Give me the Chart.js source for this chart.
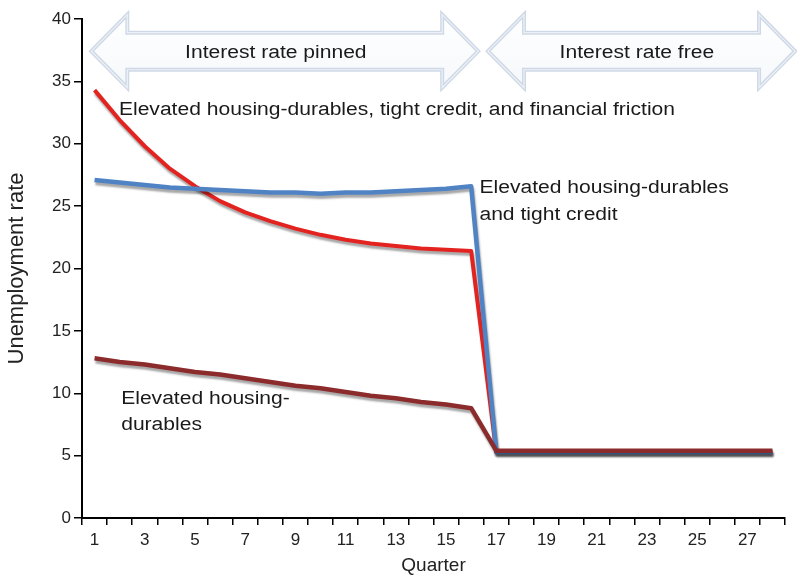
<!DOCTYPE html>
<html>
<head>
<meta charset="utf-8">
<script src="https://cdn.jsdelivr.net/npm/chart.js@4.4.1/dist/chart.umd.min.js"></script>
<style>
  body { margin: 0; background: #fff; }
</style>
</head>
<body>
<canvas id="chart" width="797" height="581"></canvas>
<script>
// quarters on the x axis
const quarters = ['1','2','3','4','5','6','7','8','9','10','11','12','13','14',
  '15','16','17','18','19','20','21','22','23','24','25','26','27','28']

// unemployment rate by scenario
const frictionRate = [34.3, 31.9, 29.8, 28.0, 26.6, 25.4, 24.5, 23.8, 23.2, 22.7, 22.3, 22.0, 21.8, 21.6, 21.5, 21.4,
  5.3, 5.3, 5.3, 5.3, 5.3, 5.3, 5.3, 5.3, 5.3, 5.3, 5.3, 5.3]
const tightCreditRate = [27.1, 26.9, 26.7, 26.5, 26.4, 26.3, 26.2, 26.1, 26.1, 26.0, 26.1, 26.1, 26.2, 26.3, 26.4, 26.6,
  5.3, 5.3, 5.3, 5.3, 5.3, 5.3, 5.3, 5.3, 5.3, 5.3, 5.3, 5.3]
const housingRate = [12.8, 12.5, 12.3, 12.0, 11.7, 11.5, 11.2, 10.9, 10.6, 10.4, 10.1, 9.8, 9.6, 9.3, 9.1, 8.8,
  5.4, 5.4, 5.4, 5.4, 5.4, 5.4, 5.4, 5.4, 5.4, 5.4, 5.4, 5.4]

const yTicks = [0, 5, 10, 15, 20, 25, 30, 35, 40]

const FONT = "'Liberation Sans', Arial, sans-serif"
const STRETCH = 1.17   // the original type is a bit wide

// double arrows at the top (x in category index, y in axis units)
const arrows = [
  { from: -0.13, to: 15.28, text: 'Interest rate pinned', textAt: 7.22 },
  { from: 15.67, to: 27.9, text: 'Interest rate free', textAt: 21.6 }
]
const arrowBand = { top: 40.35, shaftTop: 38.9, mid: 37.42, shaftBottom: 35.93, bottom: 34.49, text: 36.85 }

// text next to the lines
const notes = [
  { lines: ['Elevated housing-durables, tight credit, and financial friction'], at: 0.97, y: [32.3] },
  { lines: ['Elevated housing-durables', 'and tight credit'], at: 15.33, y: [26.05, 23.88] },
  { lines: ['Elevated housing-', 'durables'], at: 1.06, y: [9.1, 7.05] }
]

function wideText(ctx, str, px, py, align) {
  ctx.save()
  ctx.translate(px, py)
  ctx.scale(STRETCH, 1)
  ctx.textAlign = align
  ctx.textBaseline = 'alphabetic'
  ctx.fillText(str, 0, 0)
  ctx.restore()
}

function drawArrow(ctx, xl, xr, yTop, sTop, yMid, sBot, yBot, head) {
  ctx.beginPath()
  ctx.moveTo(xl, yMid)
  ctx.lineTo(xl + head, yTop)
  ctx.lineTo(xl + head, sTop)
  ctx.lineTo(xr - head, sTop)
  ctx.lineTo(xr - head, yTop)
  ctx.lineTo(xr, yMid)
  ctx.lineTo(xr - head, yBot)
  ctx.lineTo(xr - head, sBot)
  ctx.lineTo(xl + head, sBot)
  ctx.lineTo(xl + head, yBot)
  ctx.closePath()
  const g = ctx.createLinearGradient(0, yTop, 0, yBot)
  g.addColorStop(0, '#ffffff')
  g.addColorStop(1, '#f5f8fb')
  ctx.fillStyle = g
  ctx.fill()
  ctx.lineWidth = 4
  ctx.strokeStyle = '#cfd9e6'
  ctx.stroke()
  ctx.lineWidth = 1.2
  ctx.strokeStyle = '#edf1f7'
  ctx.stroke()
}

const lineShadow = {
  id: 'lineShadow',
  beforeDatasetsDraw(chart) {
    const ctx = chart.ctx
    ctx.save()
    ctx.shadowColor = 'rgba(0, 0, 0, 0.35)'
    ctx.shadowOffsetX = 1
    ctx.shadowOffsetY = 3
    ctx.shadowBlur = 2
  },
  afterDatasetsDraw(chart) {
    chart.ctx.restore()
  }
}

const annotations = {
  id: 'annotations',
  afterDraw(chart) {
    const { ctx, scales: { x, y } } = chart
    ctx.save()
    ctx.lineJoin = 'miter'
    arrows.forEach(a => {
      drawArrow(ctx, x.getPixelForValue(a.from), x.getPixelForValue(a.to),
        y.getPixelForValue(arrowBand.top), y.getPixelForValue(arrowBand.shaftTop),
        y.getPixelForValue(arrowBand.mid), y.getPixelForValue(arrowBand.shaftBottom),
        y.getPixelForValue(arrowBand.bottom), 36)
    })
    ctx.fillStyle = '#1a1a1a'
    ctx.font = '18px ' + FONT
    arrows.forEach(a => {
      wideText(ctx, a.text, x.getPixelForValue(a.textAt), y.getPixelForValue(arrowBand.text), 'center')
    })
    notes.forEach(n => {
      n.lines.forEach((line, i) => {
        wideText(ctx, line, x.getPixelForValue(n.at), y.getPixelForValue(n.y[i]), 'left')
      })
    })
    ctx.restore()
  }
}

const ctx = document.getElementById('chart').getContext('2d')
new Chart(ctx, {
  type: 'line',
  data: {
    labels: quarters,
    datasets: [
      {
        label: 'Elevated housing-durables',
        data: housingRate,
        borderColor: '#8c2b2b',
        borderWidth: 4.5
      },
      {
        label: 'Elevated housing-durables and tight credit',
        data: tightCreditRate,
        borderColor: '#4f83c4',
        borderWidth: 4.5
      },
      {
        label: 'Elevated housing-durables, tight credit, and financial friction',
        data: frictionRate,
        borderColor: '#e3231f',
        borderWidth: 4
      }
    ]
  },
  options: {
    responsive: false,
    animation: false,
    layout: { padding: { left: 0, right: 12, top: 19, bottom: 0 } },
    elements: {
      point: { radius: 0 },
      line: { tension: 0, borderCapStyle: 'butt', borderJoinStyle: 'round' }
    },
    plugins: {
      legend: { display: false },
      tooltip: { enabled: false }
    },
    scales: {
      x: {
        offset: true,
        grid: { offset: true, drawOnChartArea: false, drawTicks: true, tickLength: 7, color: '#000', lineWidth: 1.5 },
        border: { color: '#000', width: 2 },
        ticks: {
          autoSkip: false,
          maxRotation: 0,
          padding: 5,
          color: '#222',
          font: { family: FONT, size: 17 },
          callback: (v, i) => (i % 2 === 0 ? quarters[i] : '')
        },
        title: { display: true, text: 'Quarter', color: '#222', font: { family: FONT, size: 19 }, padding: { top: 0, bottom: 4 } },
        afterFit: s => { s.height = 63 }
      },
      y: {
        min: 0,
        max: 40,
        afterBuildTicks: s => { s.ticks = yTicks.map(v => ({ value: v })) },
        grid: { drawOnChartArea: false, drawTicks: true, tickLength: 8, color: '#000', lineWidth: 1.5 },
        border: { color: '#000', width: 2 },
        ticks: { padding: 3, color: '#222', font: { family: FONT, size: 17 } },
        title: { display: true, text: 'Unemployment rate', color: '#222', font: { family: FONT, size: 22 }, padding: { top: 4, bottom: 0 } },
        afterFit: s => { s.width = 82 }
      }
    }
  },
  plugins: [lineShadow, annotations]
})
</script>
</body>
</html>
